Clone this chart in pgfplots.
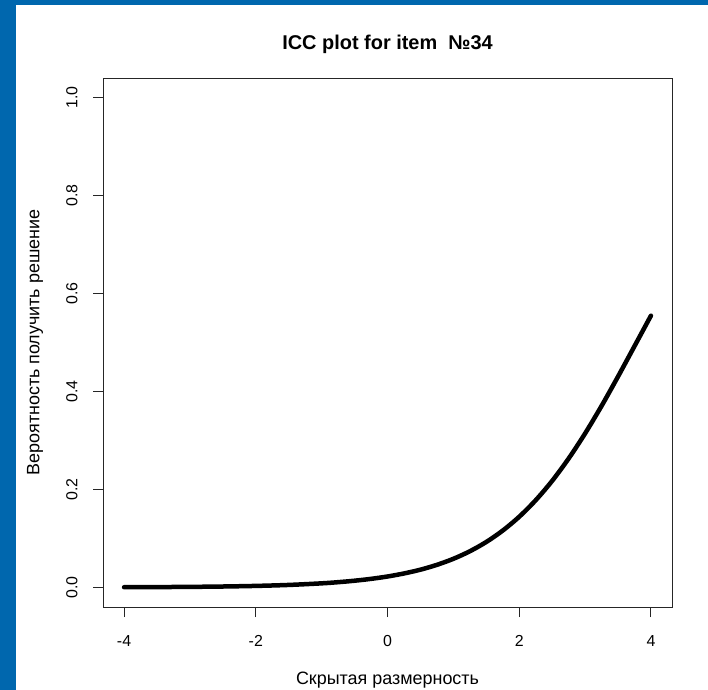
\documentclass[border=0pt]{standalone}
\usepackage{pgfplots}
\pgfplotsset{compat=1.18}
\usepackage{fontspec}
\setmainfont{Liberation Sans}
\definecolor{frameblue}{RGB}{0,103,174}
\begin{document}
\begin{tikzpicture}[x=1bp,y=1bp]
\fill[white] (0,0) rectangle (708,-690);
\fill[frameblue] (0,0) rectangle (708,-5);
\fill[frameblue] (0,0) rectangle (16,-690);
\useasboundingbox (0,0) rectangle (708,-690);
\begin{axis}[
  at={(103bp,-607bp)}, anchor=south west,
  scale only axis, width=569bp, height=529bp,
  xmin=-4.32, xmax=4.32, ymin=-0.04, ymax=1.04,
  xtick={-4,-2,0,2,4}, ytick={0,0.2,0.4,0.6,0.8,1.0},
  xticklabels={-4,-2,0,2,4},
  yticklabels={0.0,0.2,0.4,0.6,0.8,1.0},
  xtick pos=bottom, ytick pos=left,
  tick align=outside, major tick length=10bp,
  every tick/.style={black!85, line width=1bp},
  axis line style={line width=1bp, black!85},
  tick label style={font=\fontsize{16}{19}\selectfont},
  xticklabel style={anchor=center, yshift=-24bp},
  yticklabel style={rotate=90, anchor=center, yshift=21bp},
  title={\bfseries ICC plot for item\ \ №34},
  title style={font=\fontsize{20}{24}\selectfont, at={(axis description cs:0.5,1)}, anchor=center, yshift=28bp},
  xlabel={Скрытая размерность},
  xlabel style={font=\fontsize{18}{21}\selectfont, at={(axis description cs:0.5,0)}, anchor=center, yshift=-73bp},
  ylabel={Вероятность получить решение},
  ylabel style={font=\fontsize{18}{21}\selectfont, at={(axis description cs:0,0.5)}, anchor=center, yshift=68bp},
]
\addplot[black, line width=4.5bp, line join=round, line cap=round, smooth] coordinates {
(-4,0.00042) (-3.5,0.00069) (-3,0.00113) (-2.5,0.00187) (-2,0.00308)
(-1.5,0.00506) (-1,0.00833) (-0.75,0.0107) (-0.5,0.0137) (-0.25,0.0175)
(0,0.0223) (0.25,0.0285) (0.5,0.0362) (0.75,0.0461) (1,0.0584)
(1.25,0.0738) (1.5,0.0928) (1.75,0.1161) (2,0.1443) (2.25,0.1780)
(2.5,0.2175) (2.75,0.2631) (3,0.3143) (3.25,0.3705) (3.5,0.4305)
(3.75,0.4925) (4,0.5548)
};
\end{axis}
\end{tikzpicture}
\end{document}
